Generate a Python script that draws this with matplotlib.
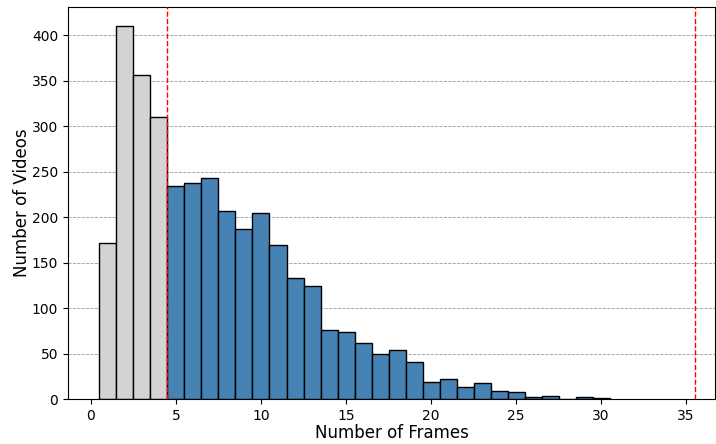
import numpy as np
import matplotlib
matplotlib.use("Agg")
import matplotlib.pyplot as plt

# frames per video -> number of videos
frames = np.arange(1, 31)
videos = [171, 410, 356, 310, 234, 237, 243, 207, 187, 204,
          169, 133, 124, 76, 74, 62, 50, 54, 41, 19,
          22, 13, 18, 9, 8, 2, 3, 0, 2, 1]
min_frames = 4.5
max_frames = 35.5

colors = ['lightgray' if f < min_frames else 'steelblue' for f in frames]

fig = plt.figure(figsize=(7.16, 4.44), dpi=100)
ax = fig.add_axes([68/716, 45/444, 647/716, 392/444])

ax.bar(frames, videos, width=1.0, color=colors, edgecolor='black', linewidth=1, zorder=2)
ax.axvline(min_frames, color='red', linestyle='--', linewidth=1, zorder=3)
ax.axvline(max_frames, color='red', linestyle='--', linewidth=1, zorder=3)

ax.set_xlim(-1.35, 36.7)
ax.set_ylim(0, 431)
ax.set_xticks([0, 5, 10, 15, 20, 25, 30, 35])
ax.set_yticks(np.arange(0, 401, 50))
ax.tick_params(labelsize=10)
ax.grid(axis='y', linestyle='--', color='gray', linewidth=0.6, alpha=0.8, zorder=0)
ax.set_axisbelow(True)

ax.set_xlabel('Number of Frames', fontsize=12, labelpad=1)
ax.set_ylabel('Number of Videos', fontsize=12, labelpad=1)

fig.savefig('out.png', dpi=100)
